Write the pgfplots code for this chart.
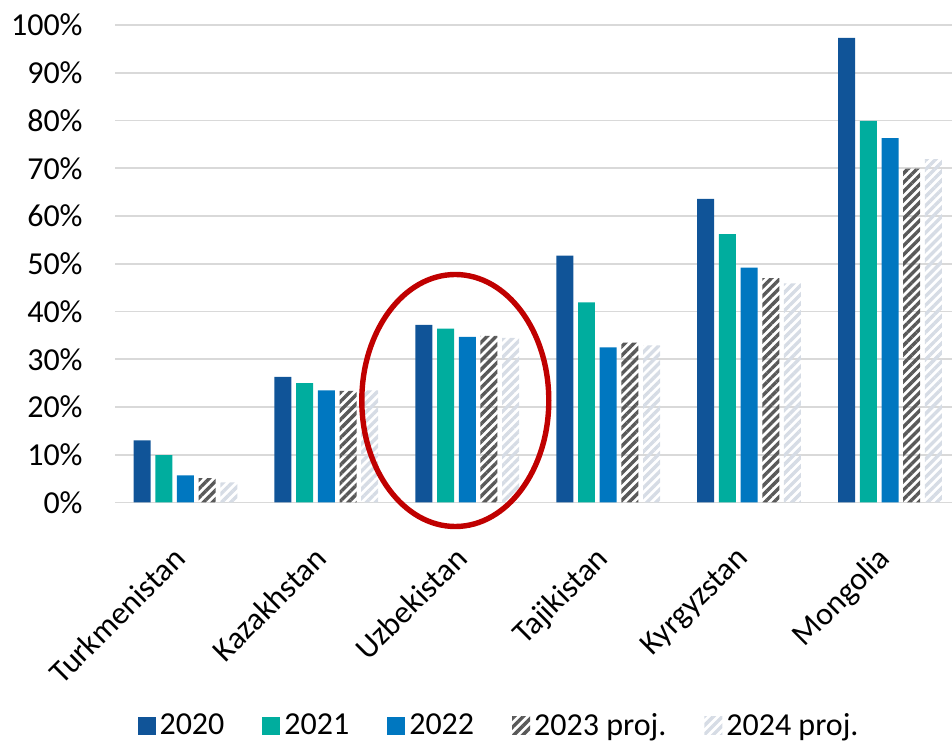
\documentclass[border=0pt]{standalone}
\usepackage{fontspec}
\setmainfont{Carlito}
\usepackage{pgfplots}
\usepackage{pgfplotstable}
\pgfplotsset{compat=1.18}
\usetikzlibrary{patterns.meta}

\definecolor{c2020}{RGB}{16,84,152}
\definecolor{c2021}{RGB}{0,173,158}
\definecolor{c2022}{RGB}{0,119,192}
\definecolor{c2023}{RGB}{89,89,89}
\definecolor{c2024}{RGB}{214,220,229}
\definecolor{gridgray}{RGB}{217,217,217}
\definecolor{ringred}{RGB}{192,0,0}

% Share of GDP by country and year (per cent)
\pgfplotstableread{
x  y2020 y2021 y2022 y2023 y2024
0  13.0  9.9   5.7   5.1   4.2
1  26.3  25.0  23.5  23.4  23.5
2  37.2  36.4  34.7  34.9  34.5
3  51.7  41.9  32.5  33.5  32.9
4  63.6  56.2  49.2  47.0  45.9
5  97.3  79.9  76.3  69.9  71.9
}\shares

\pgfplotsset{
  sqlegend/.style={legend image code/.code={\path[##1,draw=none] (0pt,-4.5pt) rectangle (9pt,4.5pt);}},
  hatch/.style={pattern={Lines[angle=45,distance=3.2pt,line width=1.7pt]},pattern color=#1},
}

\begin{document}
\begin{tikzpicture}
\useasboundingbox (0,0) rectangle (476pt,371pt);
\begin{axis}[
  at={(57.5pt,119.75pt)}, anchor=south west,
  scale only axis,
  width=418.5pt, height=238.75pt,
  xmin=-0.5, xmax=5.44,
  ymin=0, ymax=100,
  clip=false,
  ybar,
  bar width=0.1206,
  axis line style={draw=none},
  major tick length=0pt,
  ytick={0,10,...,100},
  yticklabel={\pgfmathtruncatemacro\v{\tick}\v\%},
  yticklabel style={anchor=east, inner sep=0pt, xshift=-16pt},
  xtick={0,1,2,3,4,5},
  xticklabels={Turkmenistan,Kazakhstan,Uzbekistan,Tajikistan,Kyrgyzstan,Mongolia},
  xticklabel style={xshift=-7pt, yshift=-21pt, rotate=45, anchor=north east, inner sep=0pt},
  tick label style={font=\fontsize{16}{19}\selectfont, text=black},
  ymajorgrids,
  major grid style={gridgray, line width=0.8pt},
  legend columns=5,
  legend style={at={(0.46,-0.468)}, anchor=center, draw=none, fill=none,
    font=\fontsize{16}{19}\selectfont,
    /tikz/every even column/.append style={column sep=17pt}},
  legend cell align=left,
]
\addplot[fill=c2020, draw=none, bar shift=-0.3078, sqlegend] table[x=x,y=y2020] {\shares};
\addplot[fill=c2021, draw=none, bar shift=-0.1539, sqlegend] table[x=x,y=y2021] {\shares};
\addplot[fill=c2022, draw=none, bar shift=0, sqlegend] table[x=x,y=y2022] {\shares};
\addplot[hatch=c2023, draw=none, bar shift=0.1539, sqlegend] table[x=x,y=y2023] {\shares};
\addplot[hatch=c2024, draw=none, bar shift=0.3078, sqlegend] table[x=x,y=y2024] {\shares};
\legend{2020,2021,2022,2023 proj.,2024 proj.}
% highlight ring around Uzbekistan
\draw[ringred, line width=2.7pt] (axis cs:1.915,21.36) ellipse [x radius=46.75pt, y radius=63pt];
\end{axis}
\end{tikzpicture}
\end{document}
